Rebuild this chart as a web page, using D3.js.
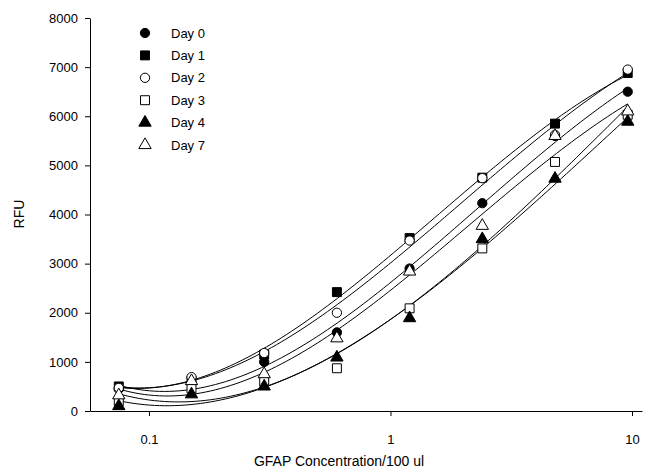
<!DOCTYPE html>
<html>
<head>
<meta charset="utf-8">
<script src="https://cdn.jsdelivr.net/npm/d3@7"></script>
<style>
  body { margin: 0; background: #fff; }
  text { font-family: Arial, "Liberation Sans", sans-serif; fill: #000; }
  .axis path, .axis line { stroke: #000; }
</style>
</head>
<body>
<div id="chart"></div>
<script>
// GFAP concentration (per 100 ul)
var conc = [0.075, 0.15, 0.3, 0.6, 1.2, 2.4, 4.8, 9.6];

// RFU readings per day
var day0 = [450, 560, 1000, 1600, 2900, 4230, 5600, 6500];
var day1 = [500, 620, 1150, 2420, 3520, 4750, 5850, 6880];
var day2 = [470, 690, 1180, 2000, 3470, 4740, 5620, 6950];
var day3 = [200, 460, 600, 870, 2090, 3310, 5070, 6030];
var day4 = [100, 340, 500, 1090, 1890, 3500, 4730, 5890];
var day7 = [320, 610, 750, 1480, 2840, 3770, 5600, 6100];

var seriesNames = ['Day 0', 'Day 1', 'Day 2', 'Day 3', 'Day 4', 'Day 7'];
var xTicks = [0.1, 1, 10];
var yTicks = [0, 1000, 2000, 3000, 4000, 5000, 6000, 7000, 8000];

var series = [
    { name: seriesNames[0], values: day0, shape: d3.symbolCircle, filled: true },
    { name: seriesNames[1], values: day1, shape: d3.symbolSquare, filled: true },
    { name: seriesNames[2], values: day2, shape: d3.symbolCircle, filled: false },
    { name: seriesNames[3], values: day3, shape: d3.symbolSquare, filled: false },
    { name: seriesNames[4], values: day4, shape: d3.symbolTriangle, filled: true },
    { name: seriesNames[5], values: day7, shape: d3.symbolTriangle, filled: false }
];

var margin = { top: 18, left: 90, bottom: 65, right: 5 },
    width = 647 - margin.left - margin.right,
    height = 476 - margin.top - margin.bottom;

var svg = d3.select('#chart').append('svg')
    .attr('width', 647)
    .attr('height', 476)
    .append('g')
    .attr('transform', 'translate(' + margin.left + ', ' + margin.top + ')');

var x = d3.scaleLog().domain([0.057, 11]).range([0, width]);
var y = d3.scaleLinear().domain([0, 8000]).range([height, 0]);

var symbolSize = { circle: 68, square: 80, triangle: 66 };
function sizeOf(shape) {
    if (shape === d3.symbolCircle) return symbolSize.circle;
    if (shape === d3.symbolSquare) return symbolSize.square;
    return symbolSize.triangle;
}

// least squares cubic in log10(x) - the regression line for each day
function fitCubic(xs, ys) {
    var n = 4, A = [], b = [];
    for (var i = 0; i < n; i++) { A.push([0, 0, 0, 0]); b.push(0); }
    xs.forEach((xv, k) => {
        var L = Math.log10(xv);
        for (var i = 0; i < n; i++) {
            for (var j = 0; j < n; j++) A[i][j] += Math.pow(L, i + j);
            b[i] += ys[k] * Math.pow(L, i);
        }
    });
    // gaussian elimination
    for (var c = 0; c < n; c++) {
        var p = c;
        for (var r = c + 1; r < n; r++) if (Math.abs(A[r][c]) > Math.abs(A[p][c])) p = r;
        [A[c], A[p]] = [A[p], A[c]];
        [b[c], b[p]] = [b[p], b[c]];
        for (var r = c + 1; r < n; r++) {
            var f = A[r][c] / A[c][c];
            for (var j = c; j < n; j++) A[r][j] -= f * A[c][j];
            b[r] -= f * b[c];
        }
    }
    var coef = [0, 0, 0, 0];
    for (var i = n - 1; i >= 0; i--) {
        var s = b[i];
        for (var j = i + 1; j < n; j++) s -= A[i][j] * coef[j];
        coef[i] = s / A[i][i];
    }
    return L => coef[0] + coef[1] * L + coef[2] * L * L + coef[3] * L * L * L;
}

var line = d3.line()
    .x(d => x(d[0]))
    .y(d => y(d[1]))
    .curve(d3.curveLinear);

var lo = Math.log10(d3.min(conc)), hi = Math.log10(d3.max(conc));
var steps = d3.range(0, 101).map(i => lo + (hi - lo) * i / 100);

series.forEach(s => {
    var f = fitCubic(conc, s.values);
    svg.append('path')
        .attr('d', line(steps.map(L => [Math.pow(10, L), f(L)])))
        .attr('fill', 'none')
        .attr('stroke', '#000')
        .attr('stroke-width', 1);
});

// markers
series.forEach(s => {
    svg.selectAll(null)
        .data(conc.map((c, i) => [c, s.values[i]]))
        .enter()
        .append('path')
        .attr('d', d3.symbol().type(s.shape).size(sizeOf(s.shape)))
        .attr('transform', d => 'translate(' + x(d[0]) + ',' + y(d[1]) + ')')
        .attr('fill', s.filled ? '#000' : '#fff')
        .attr('stroke', '#000')
        .attr('stroke-width', 1);
});

// axes
var xAxis = d3.axisBottom(x)
    .tickValues(xTicks)
    .tickSize(5)
    .tickSizeOuter(0)
    .tickFormat(d3.format(''));

svg.append('g')
    .attr('class', 'axis')
    .attr('transform', 'translate(0,' + height + ')')
    .call(xAxis)
    .call(g => g.selectAll('text')
        .attr('dy', '1.9em')
        .style('font-size', '13px'));

var yAxis = d3.axisLeft(y)
    .tickValues(yTicks)
    .tickSize(5)
    .tickSizeOuter(0)
    .tickFormat(d3.format('d'));

svg.append('g')
    .attr('class', 'axis')
    .call(yAxis)
    .call(g => g.selectAll('text')
        .attr('x', -12)
        .style('font-size', '13px'));

svg.selectAll('.axis text').attr('font-family', null);

// axis titles
svg.append('text')
    .attr('x', width / 2 - 27)
    .attr('y', height + 55)
    .attr('text-anchor', 'middle')
    .style('font-size', '14px')
    .text('GFAP Concentration/100 ul');

svg.append('text')
    .attr('x', -196)
    .attr('y', -margin.left + 24)
    .attr('transform', 'rotate(-90)')
    .attr('text-anchor', 'middle')
    .style('font-size', '14px')
    .text('RFU');

// legend
var legend = svg.append('g')
    .attr('transform', 'translate(55, 15)');

var legendRow = legend.selectAll('g')
    .data(series)
    .enter()
    .append('g')
    .attr('transform', (d, i) => 'translate(0,' + (i * 22.4) + ')');

legendRow.append('path')
    .attr('d', d => d3.symbol().type(d.shape).size(sizeOf(d.shape))())
    .attr('fill', d => d.filled ? '#000' : '#fff')
    .attr('stroke', '#000');

legendRow.append('text')
    .attr('x', 26)
    .attr('dy', '0.35em')
    .style('font-size', '13px')
    .text(d => d.name);
</script>
</body>
</html>
